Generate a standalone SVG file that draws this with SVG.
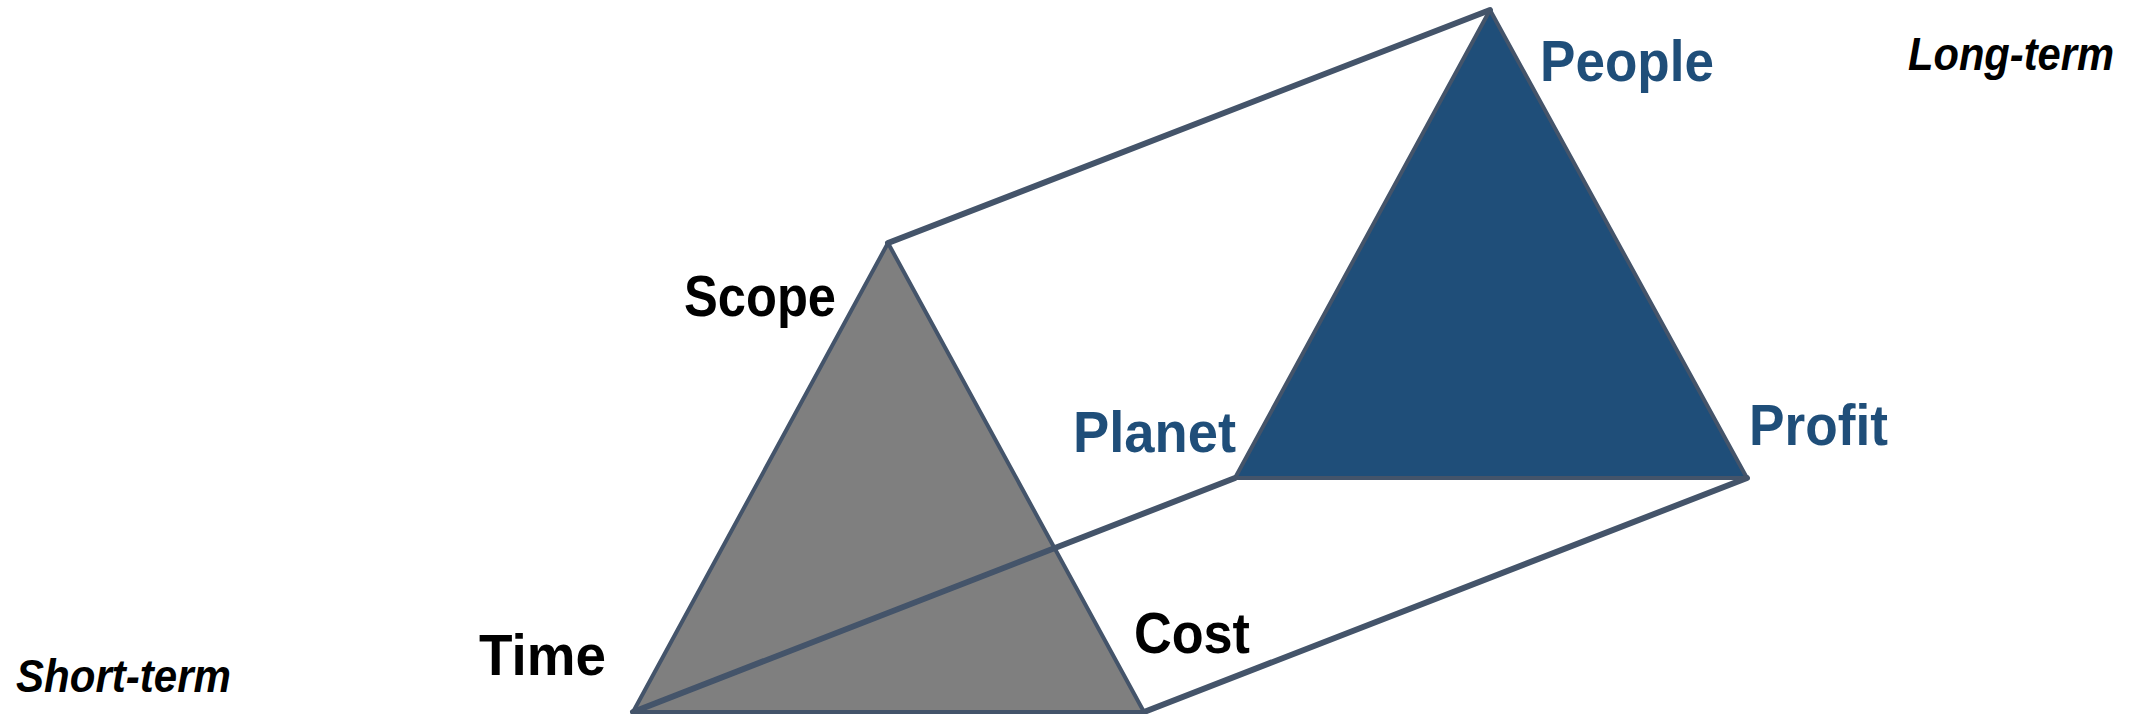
<svg xmlns="http://www.w3.org/2000/svg" width="2129" height="714" viewBox="0 0 2129 714">
<style>
.edge{stroke:#44546A;stroke-width:6;fill:none;stroke-linecap:round;stroke-linejoin:round}
.tri{stroke:#44546A;stroke-width:4;stroke-linejoin:round}
.lbl{font-family:"Liberation Sans",Arial,sans-serif;font-weight:bold;font-size:57px}
.dark{fill:#000000}
.blue{fill:#1F4E79}
.term{font-family:"Liberation Sans",Arial,sans-serif;font-weight:bold;font-style:italic;font-size:47px;fill:#000000}
</style>
<rect width="2129" height="714" fill="#ffffff"/>
<g id="short-triangle">
<polygon class="tri" points="888,243 633,712 1144,712" fill="#7F7F7F"/>
</g>
<g id="long-triangle">
<polygon class="tri" points="1490,10 1235,478 1747,478" fill="#1F4E79"/>
</g>
<g id="connectors">
<line class="edge" x1="888" y1="243" x2="1490" y2="10"/>
<line class="edge" x1="633" y1="712" x2="1235" y2="478"/>
<line class="edge" x1="1144" y1="712" x2="1747" y2="478"/>
</g>
<g id="label-scope"><text class="lbl dark" x="684" y="316" textLength="152" lengthAdjust="spacingAndGlyphs">Scope</text></g>
<g id="label-time"><text class="lbl dark" x="479" y="675" textLength="127" lengthAdjust="spacingAndGlyphs">Time</text></g>
<g id="label-cost"><text class="lbl dark" x="1134" y="653" textLength="116" lengthAdjust="spacingAndGlyphs">Cost</text></g>
<g id="label-people"><text class="lbl blue" x="1540" y="81" textLength="174" lengthAdjust="spacingAndGlyphs">People</text></g>
<g id="label-planet"><text class="lbl blue" x="1073" y="452" textLength="163" lengthAdjust="spacingAndGlyphs">Planet</text></g>
<g id="label-profit"><text class="lbl blue" x="1749" y="445" textLength="139" lengthAdjust="spacingAndGlyphs">Profit</text></g>
<g id="label-short-term"><text class="term" x="16" y="692" textLength="215" lengthAdjust="spacingAndGlyphs">Short-term</text></g>
<g id="label-long-term"><text class="term" x="1908" y="70" textLength="206" lengthAdjust="spacingAndGlyphs">Long-term</text></g>
</svg>
